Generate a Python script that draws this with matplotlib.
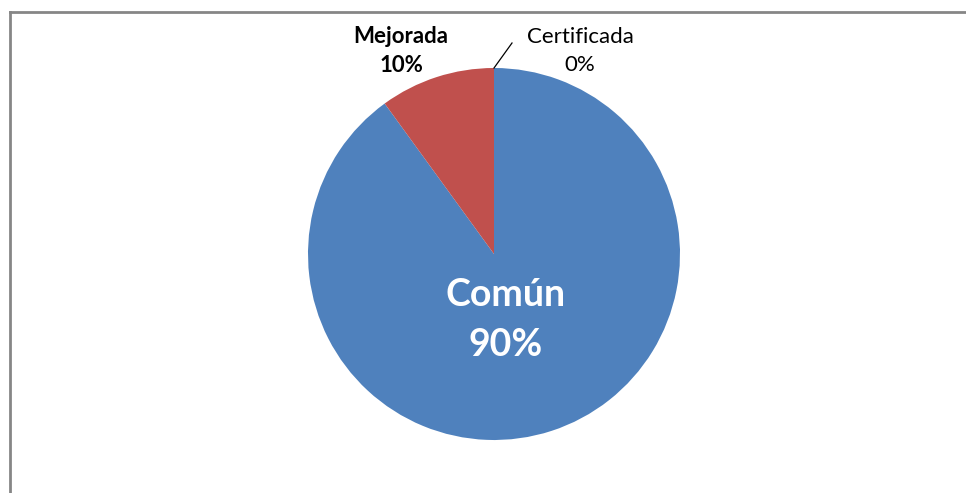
import matplotlib
matplotlib.use("Agg")
import matplotlib.pyplot as plt
from matplotlib.lines import Line2D

categories = ["Común", "Mejorada", "Certificada"]
values = [90, 10, 0]
colors = ["#4F81BD", "#C0504D", "#9BBB59"]

W, H = 966, 493
fig = plt.figure(figsize=(W / 100, H / 100), dpi=100)
ax = fig.add_axes([0, 0, 1, 1])

cx, cy, R = 494, H - 254, 186
ax.pie(values, colors=colors, startangle=90, counterclock=False,
       center=(cx, cy), radius=R, frame=True,
       wedgeprops=dict(linewidth=0))
ax.set_xlim(0, W)
ax.set_ylim(0, H)
ax.set_aspect("equal")
ax.axis("off")

font = "Lato"
total = sum(values)

# Común: inside the slice
ax.text(506, H - 320, f"{categories[0]}\n{values[0] / total:.0%}", ha="center",
        va="center", color="white", fontsize=27, fontweight="bold",
        family=font, linespacing=1.55)

# Mejorada: outside, upper left
ax.text(401, H - 51, f"{categories[1]}\n{values[1] / total:.0%}", ha="center",
        va="center", color="black", fontsize=16, fontweight="bold",
        family=font, linespacing=1.5)

# Certificada: outside, with a leader line from the top of the pie
ax.text(580, H - 51, f"{categories[2]}\n{values[2] / total:.0%}", ha="center",
        va="center", color="black", fontsize=16, family=font,
        linespacing=1.5)
ax.plot([cx, cx + 18], [cy + R, cy + R + 25], color="black", lw=0.9)

# chart area border (top and left edges)
fig.add_artist(Line2D([10 / W, 10 / W], [0, 1 - 12 / H], color="#868686",
                      lw=2, transform=fig.transFigure))
fig.add_artist(Line2D([10 / W, 1], [1 - 12 / H, 1 - 12 / H], color="#868686",
                      lw=2, transform=fig.transFigure))

fig.savefig("out.png", dpi=100)
